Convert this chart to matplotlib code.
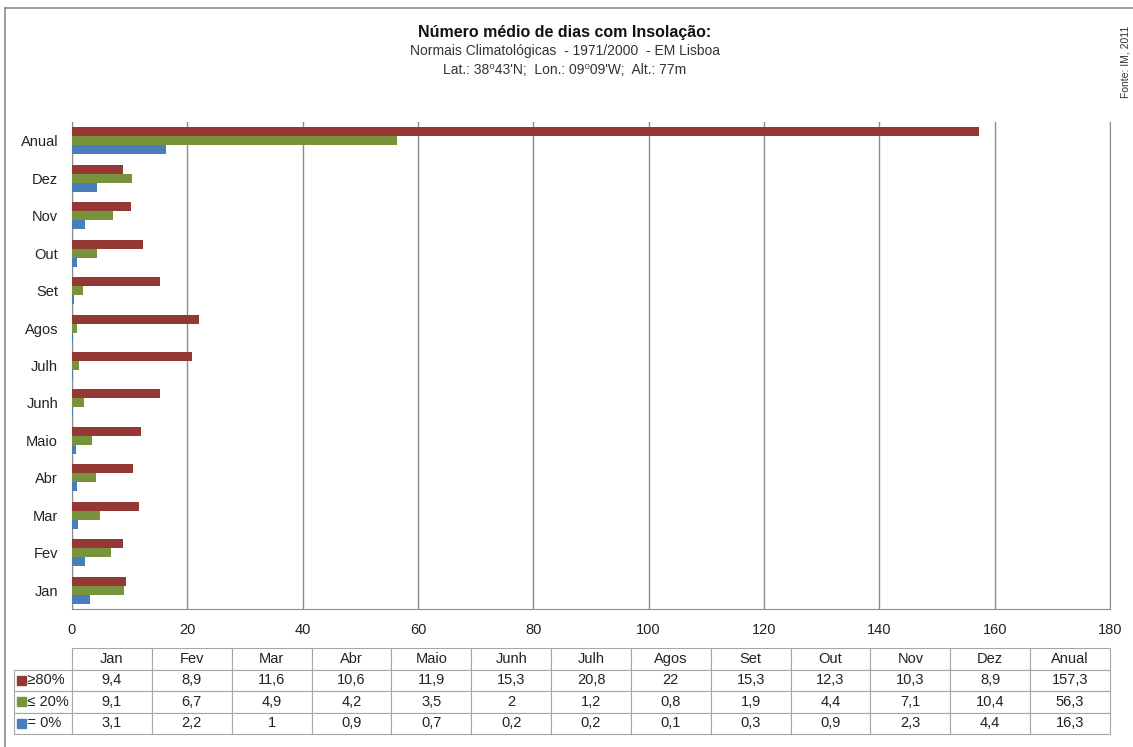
import matplotlib.pyplot as plt
from matplotlib.table import Table
from matplotlib.patches import Rectangle
from matplotlib.lines import Line2D

plt.rcParams['font.family'] = ['Liberation Sans', 'DejaVu Sans']

months = ["Jan", "Fev", "Mar", "Abr", "Maio", "Junh", "Julh", "Agos", "Set", "Out", "Nov", "Dez", "Anual"]
sol_80 = [9.4, 8.9, 11.6, 10.6, 11.9, 15.3, 20.8, 22, 15.3, 12.3, 10.3, 8.9, 157.3]
sol_20 = [9.1, 6.7, 4.9, 4.2, 3.5, 2, 1.2, 0.8, 1.9, 4.4, 7.1, 10.4, 56.3]
sol_0 = [3.1, 2.2, 1, 0.9, 0.7, 0.2, 0.2, 0.1, 0.3, 0.9, 2.3, 4.4, 16.3]
series_names = ["≥80%", "≤ 20%", "= 0%"]
colors = ["#953735", "#77933C", "#4A7EBB"]

W, H = 1133, 747
fig = plt.figure(figsize=(W / 100, H / 100), dpi=100)

# outer frame (open on the right and bottom)
fig.add_artist(Line2D([5 / W, 5 / W], [1 - 8 / H, 0], color="#8c8c8c", lw=1.2))
fig.add_artist(Line2D([5 / W, 1], [1 - 8 / H, 1 - 8 / H], color="#8c8c8c", lw=1.2))

ax = fig.add_axes([72 / W, 1 - 609 / H, 1038 / W, 487 / H])
pos = list(range(len(months)))
h = 0.24
for vals, off, c in zip([sol_80, sol_20, sol_0], [h, 0, -h], colors):
    ax.barh([p + off for p in pos], vals, height=h, color=c, zorder=3)

ax.set_xlim(0, 180)
ax.set_ylim(-0.5, len(months) - 0.5)
ax.set_yticks(pos)
ax.set_yticklabels(months, fontsize=10.5, color="#222222")
ax.set_xticks(range(0, 181, 20))
ax.tick_params(axis="x", labelsize=10.5, colors="#222222", length=0, pad=10)
ax.tick_params(axis="y", length=0, pad=10)
ax.grid(axis="x", color="#8c8c8c", lw=1, zorder=0)
ax.spines["top"].set_visible(False)
ax.spines["right"].set_color("#8c8c8c")
for s in ["left", "bottom"]:
    ax.spines[s].set_color("#8c8c8c")

# titles
fig.text(565 / W, 1 - 33 / H, "Número médio de dias com Insolação:", ha="center", va="center",
         fontsize=11.5, fontweight="bold", color="#111111")
fig.text(565 / W, 1 - 51 / H, "Normais Climatológicas  - 1971/2000  - EM Lisboa", ha="center",
         va="center", fontsize=10, color="#333333")
fig.text(565 / W, 1 - 70 / H, "Lat.: 38⁰43'N;  Lon.: 09⁰09'W;  Alt.: 77m", ha="center",
         va="center", fontsize=10, color="#333333")
fig.text(1126 / W, 1 - 62 / H, "Fonte: IM, 2011", rotation=90, ha="center", va="center",
         fontsize=7.5, color="#333333")

# data table below the chart; bbox covers the value columns, labels sit to the left
tax = fig.add_axes([72 / W, 1 - 734 / H, 1038 / W, 86 / H])
tax.axis("off")
tab = Table(tax, bbox=[0, 0, 1, 1])
col_w = 1 / 13
label_w = 58 / 1038
rh = 0.25
for j, m in enumerate(months):
    tab.add_cell(0, j, col_w, rh, text=m, loc="center")
for i, vals in enumerate([sol_80, sol_20, sol_0]):
    tab.add_cell(i + 1, -1, label_w, rh, text="   " + series_names[i], loc="left")
    for j, v in enumerate(vals):
        tab.add_cell(i + 1, j, col_w, rh, text=f"{v:g}".replace(".", ","), loc="center")
tab.auto_set_font_size(False)
tab.set_fontsize(10.5)
for (r, c), cell in tab.get_celld().items():
    cell.set_edgecolor("#a6a6a6")
    cell.set_linewidth(0.8)
    cell.get_text().set_color("#222222")
    cell.PAD = 0.02
tax.add_table(tab)

# legend keys in the row labels
for i, c in enumerate(colors):
    yc = 1 - (734 - 86 * (2.5 - i) / 4) / H
    fig.add_artist(Rectangle((17 / W, yc - 4.5 / H), 9 / W, 9 / H, color=c))

fig.savefig("out.png", dpi=100)
